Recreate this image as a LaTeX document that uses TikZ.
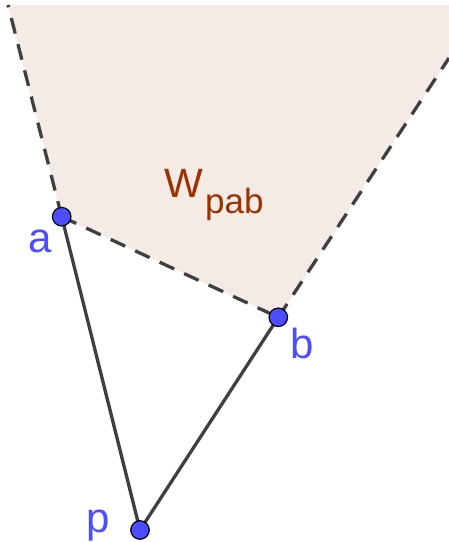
\documentclass[tikz,border=0pt]{standalone}
\usepackage{fontspec}
\setmainfont{Liberation Sans}
\definecolor{ggblue}{RGB}{77,77,255}
\definecolor{ggbrown}{RGB}{153,51,0}
\definecolor{ggfill}{RGB}{245,235,230}
\definecolor{ggline}{RGB}{64,64,64}
\begin{document}
\begin{tikzpicture}[x=1pt,y=-1pt,
  seg/.style={ggline, line width=3.3pt},
  ray/.style={ggline, line width=3.3pt, dash pattern=on 16pt off 11pt},
  pt/.style={circle, draw=black, line width=1.2pt, fill=ggblue, inner sep=0pt, minimum size=18.5pt},
  lbl/.style={text=ggblue, font=\fontsize{42}{42}\selectfont, anchor=base, inner sep=0pt}]
\useasboundingbox (0,0) rectangle (449,542);
\coordinate (a) at (61.7,216.7);
\coordinate (b) at (278.3,317.3);
\coordinate (p) at (140,530);
\coordinate (ta) at (8,5);
\coordinate (tr) at (449,5);
\coordinate (tb) at (449,58);
\fill[ggfill] (ta) -- (tr) -- (tb) -- (b) -- (a) -- cycle;
\draw[ray] (a) -- (ta);
\draw[ray] (a) -- (b);
\draw[ray] (b) -- (tb);
\draw[seg] (a) -- (p);
\draw[seg] (b) -- (p);
\node[pt] (pa) at (a) {};
\node[pt] (pb) at (b) {};
\node[pt] (pp) at (p) {};
\node[lbl] (la) at (40,252) {a};
\node[lbl] (lb) at (302,358) {b};
\node[lbl] (lp) at (98,532) {p};
\node[anchor=base west, inner sep=0pt, text=ggbrown, font=\fontsize{41}{41}\selectfont] (w) at (164,197) {W};
\node[anchor=base west, inner sep=0pt, text=ggbrown, font=\fontsize{35}{35}\selectfont] (wsub) at (205,213) {pab};
\end{tikzpicture}
\end{document}
